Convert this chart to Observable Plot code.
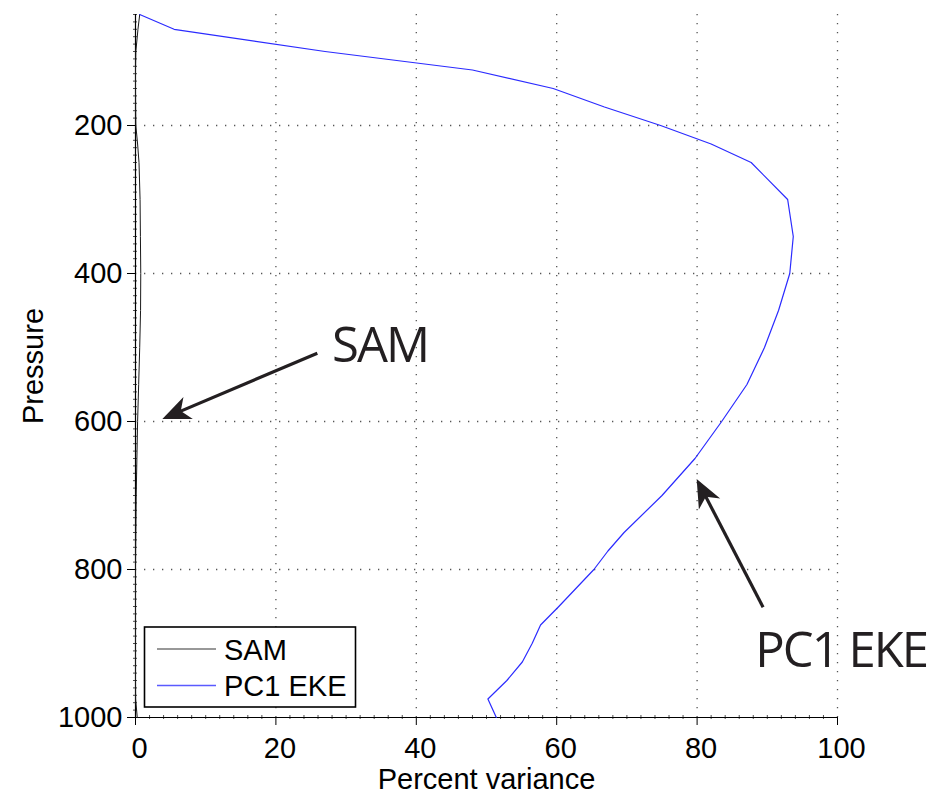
<!DOCTYPE html>
<html>
<head>
<meta charset="utf-8">
<script src="https://cdn.jsdelivr.net/npm/d3@7"></script>
<script src="https://cdn.jsdelivr.net/npm/@observablehq/plot@0.6"></script>
<style>
  body { margin: 0; background: #fff; }
  #chart { width: 933px; height: 800px; }
</style>
</head>
<body>
<div id="chart"></div>
<script>
// ---- data ----
const pressure = [50, 70, 100, 125, 150, 175, 200, 225, 250, 300, 350, 400, 450, 500, 550, 600, 650, 700, 750, 775, 800, 825, 850, 875, 900, 925, 950, 975, 1000];
const samVariance = [0.6, 0.35, 0.05, 0, 0, 0.02, 0.05, 0.3, 0.5, 0.65, 0.7, 0.75, 0.72, 0.6, 0.45, 0.3, 0.2, 0.1, 0.05, 0.02, 0, 0, 0, 0, 0, 0, 0, 0.02, 0.25];
const ekeVariance = [0.6, 5.5, 27, 48, 59.5, 66.8, 74.8, 82, 87.7, 92.9, 93.7, 93.2, 91.6, 89.6, 87.1, 83.5, 79.7, 75, 69.6, 67.3, 65.3, 62.8, 60.3, 57.7, 56.5, 55.1, 52.9, 50.2, 51.4];

const seriesNames = ["SAM", "PC1 EKE"];
const seriesColors = ["#1a1a1a", "#2b2bff"];

const xTicks = [0, 20, 40, 60, 80, 100];
const yTicks = [200, 400, 600, 800, 1000];
const xLabel = "Percent variance";
const yLabel = "Pressure";

// annotations (data coordinates)
const annotationLabels = ["SAM", "PC1 EKE"];
const annotationX = [28.0, 88.3];
const annotationP = [520, 932];
const arrowFromX = [25.9, 89.4];
const arrowFromP = [507.7, 851];
const arrowToX = [4.35, 80.2];
const arrowToP = [594.4, 682.6];
const annotationColor = "rgb(35, 31, 33)";

// ---- tables built from the arrays ----
const samRows = pressure.map((p, i) => ({p, v: samVariance[i]}));
const ekeRows = pressure.map((p, i) => ({p, v: ekeVariance[i]}));
const notes = annotationLabels.map((t, i) => ({t, x: annotationX[i], p: annotationP[i]}));
const arrows = annotationLabels.map((t, i) => ({x1: arrowFromX[i], y1: arrowFromP[i], x2: arrowToX[i], y2: arrowToP[i]}));
const yMinor = d3.range(50, 1001, 10).filter(d => !yTicks.includes(d));
const xMinor = d3.range(0, 101, 2).filter(d => !xTicks.includes(d));

const gridStyle = {stroke: "#555", strokeOpacity: 1, strokeWidth: 1.3, strokeDasharray: "1.3,7.7"};
const fontSize = 29;
const fontFamily = "'Liberation Sans', Arial, Helvetica, sans-serif";

const plot = Plot.plot({
  width: 933,
  height: 800,
  marginLeft: 135,
  marginRight: 96,
  marginTop: 14,
  marginBottom: 83,
  style: {fontFamily, fontSize: fontSize + "px", background: "#fff", color: "#000", overflow: "visible"},
  x: {domain: [0, 100]},
  y: {domain: [50, 1000], reverse: true},
  marks: [
    Plot.gridX(xTicks.filter(d => d > 0), gridStyle),
    Plot.gridY(yTicks.filter(d => d < 1000), gridStyle),
    // minor ticks
    Plot.axisY(yMinor, {tickSize: 4, dx: 2, tickFormat: () => "", stroke: "#222", strokeWidth: 0.8}),
    Plot.axisX(xMinor, {tickSize: 4, dy: -2, tickFormat: () => "", stroke: "#222", strokeWidth: 0.8}),
    // major ticks and labels
    Plot.axisY(yTicks, {tickSize: 8, tickPadding: 5, tickFormat: "d", fontSize, label: null, stroke: "#000"}),
    Plot.axisX(xTicks, {tickSize: 8, tickFormat: () => "", label: null, stroke: "#000"}),
    Plot.axisX(xTicks, {tickSize: 0, tickPadding: 20, dx: 4, tickFormat: "d", fontSize, label: null}),
    Plot.ruleX([0], {stroke: "#000", strokeWidth: 1.2}),
    Plot.ruleY([1000], {stroke: "#000", strokeWidth: 1.2}),
    // axis titles
    Plot.text([xLabel], {frameAnchor: "bottom", text: d => d, dy: 71, lineAnchor: "bottom", textAnchor: "middle", fontSize}),
    Plot.text([yLabel], {frameAnchor: "left", text: d => d, rotate: -90, dx: -93, lineAnchor: "bottom", textAnchor: "middle", fontSize}),
    // data lines
    Plot.line(samRows, {x: "v", y: "p", stroke: seriesColors[0], strokeWidth: 1}),
    Plot.line(ekeRows, {x: "v", y: "p", stroke: seriesColors[1], strokeWidth: 1.2}),
    // annotations
    Plot.link(arrows, {x1: "x1", y1: "y1", x2: "x2", y2: "y2", stroke: annotationColor, strokeWidth: 3.2}),
    Plot.text(notes, {x: "x", y: "p", text: "t", textAnchor: "start", lineAnchor: "bottom", fontFamily: "'Open Sans', 'Noto Sans', sans-serif", fontSize: 49, fill: annotationColor})
  ]
});

document.getElementById("chart").appendChild(plot);

const svg = d3.select(plot);

// filled arrowheads on the annotation links
const defs = svg.append("defs");
defs.append("marker")
  .attr("id", "filled-head")
  .attr("markerUnits", "userSpaceOnUse")
  .attr("viewBox", "-26 -14 32 28")
  .attr("markerWidth", 32)
  .attr("markerHeight", 28)
  .attr("refX", 0).attr("refY", 0)
  .attr("orient", "auto")
  .append("path")
  .attr("d", "M4,0 L-24,-12 L-16,0 L-24,12 Z")
  .attr("fill", annotationColor);
svg.selectAll("g").filter(function() { return this.getAttribute("stroke") === annotationColor; })
  .selectAll("path, line").attr("marker-end", "url(#filled-head)");
// tighter letter spacing for the annotation texts (narrower typeface in the reference)
svg.selectAll("g").filter(function() { return this.getAttribute("fill") === annotationColor; })
  .selectAll("text").style("letter-spacing", "-2px");

// legend box (inside the plot area, lower left)
const lg = svg.append("g").attr("font-family", fontFamily).attr("font-size", fontSize).attr("text-anchor", "start");
lg.append("rect").attr("x", 144.5).attr("y", 627).attr("width", 211).attr("height", 80)
  .attr("fill", "#fff").attr("stroke", "#000").attr("stroke-width", 1.6);
seriesNames.forEach((name, i) => {
  const y = 649 + i * 36.5;
  lg.append("line").attr("x1", 157).attr("x2", 216).attr("y1", y).attr("y2", y)
    .style("stroke", i ? "#5a5aff" : "#333").style("stroke-width", i ? "1.6px" : "1.2px");
  lg.append("text").attr("x", 224).attr("y", y + 10.5).attr("fill", "#000").text(name);
});
</script>
</body>
</html>
